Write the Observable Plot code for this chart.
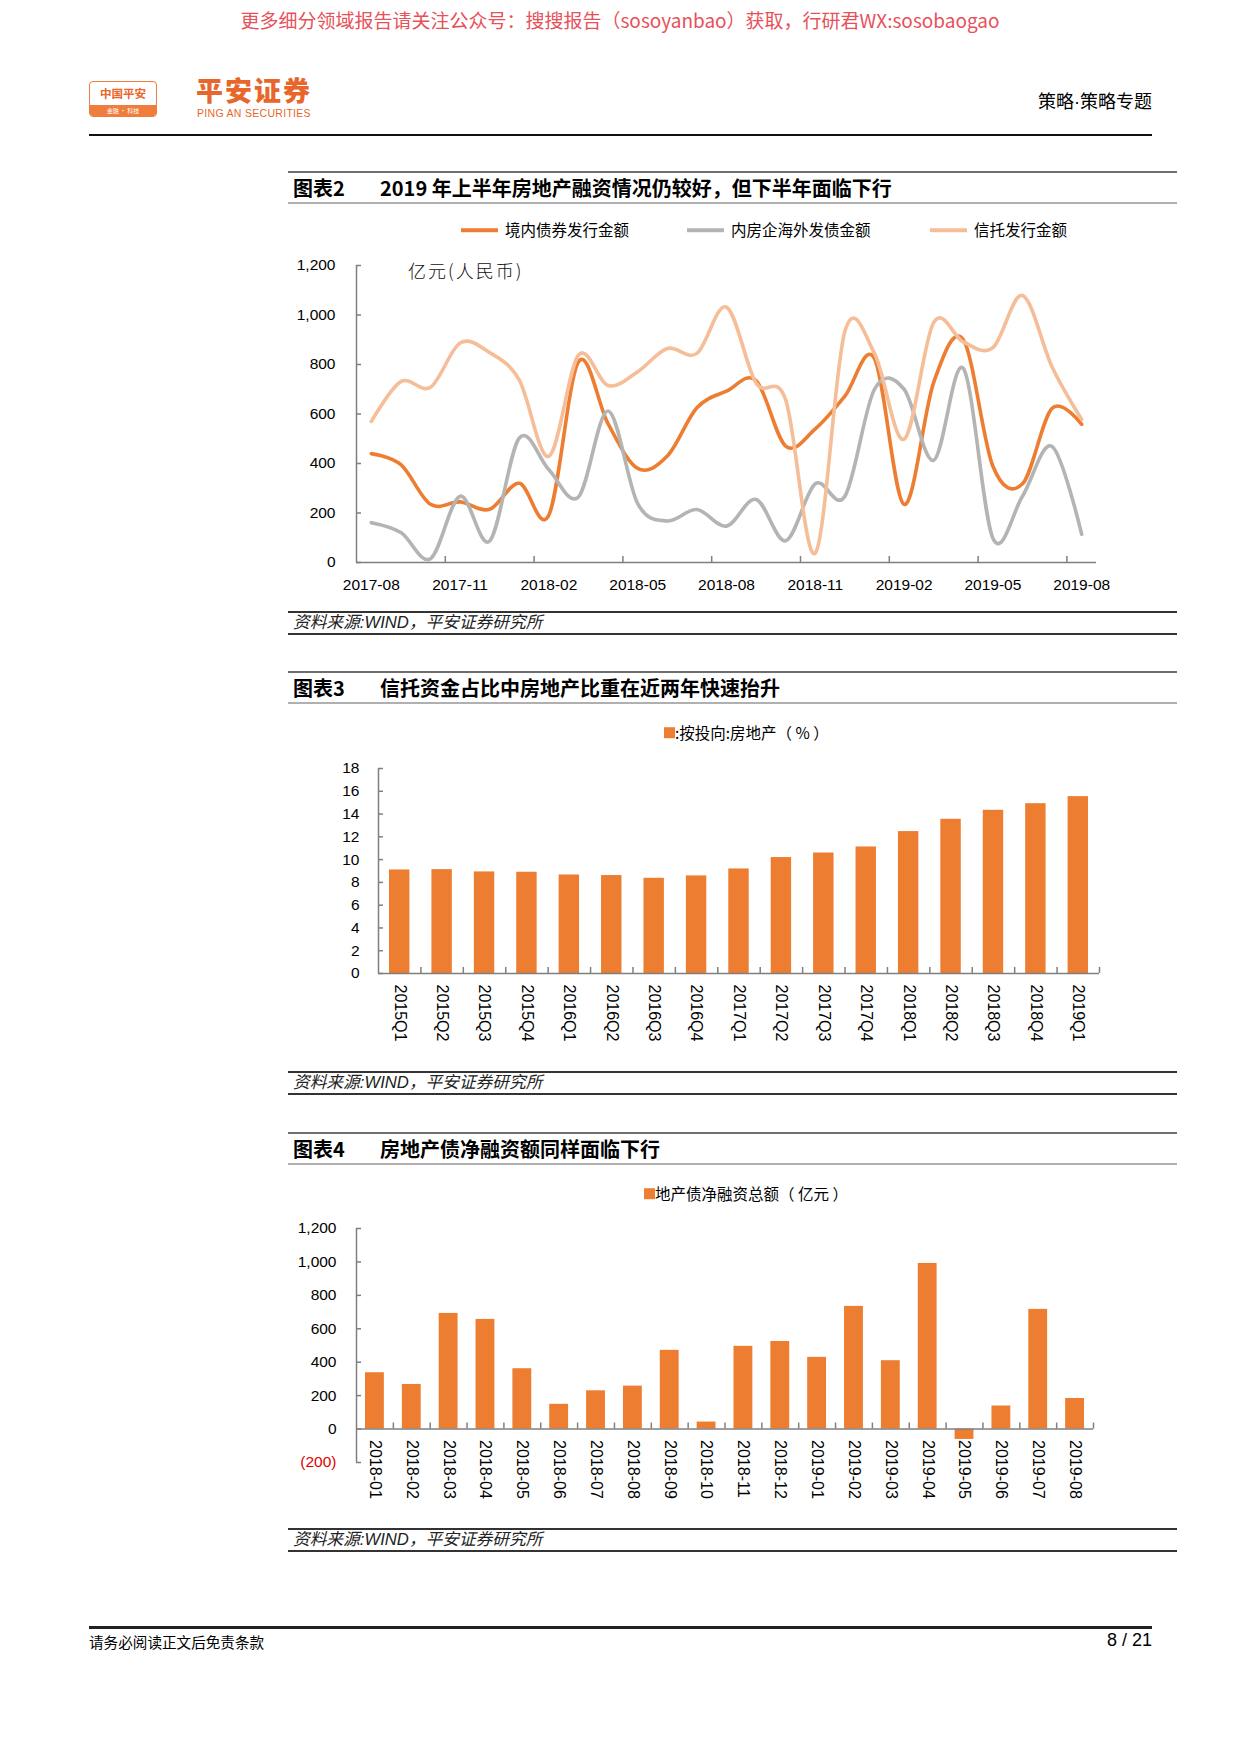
<!DOCTYPE html>
<html><head><meta charset="utf-8">
<script src="https://cdn.jsdelivr.net/npm/d3@7"></script>
<script src="https://cdn.jsdelivr.net/npm/@observablehq/plot@0.6"></script>
<style>
body{margin:0;background:#fff;}
#page{position:relative;width:1240px;height:1753px;overflow:hidden;font-family:"Liberation Sans","Noto Sans CJK SC",sans-serif;color:#000;}
.a{position:absolute;white-space:nowrap;line-height:1;}
.cy{transform:translateY(-50%);}
.rule{position:absolute;left:288px;width:889px;}
.ttl{font-family:"Noto Sans CJK SC",sans-serif;font-weight:700;font-size:20px;}
.src{font-style:italic;font-size:16.7px;color:#222;}
.lg{font-family:"Noto Sans CJK SC",sans-serif;font-size:15.5px;}
.sw{display:inline-block;vertical-align:middle;}
svg{overflow:visible;}
</style></head>
<body><div id="page"></div>
<script>
// ---------- data ----------
const months = ["2017-08","2017-09","2017-10","2017-11","2017-12","2018-01","2018-02","2018-03","2018-04","2018-05","2018-06","2018-07","2018-08","2018-09","2018-10","2018-11","2018-12","2019-01","2019-02","2019-03","2019-04","2019-05","2019-06","2019-07","2019-08"];
const domesticBond = [440,395,235,245,215,320,192,811,560,380,430,625,692,735,470,540,672,824,235,728,900,389,318,623,558];
const overseasBond = [161,121,15,268,87,503,375,265,612,238,168,214,147,255,88,318,268,700,700,413,784,98,268,469,114];
const trustIssue   = [570,731,708,887,848,737,429,838,715,771,865,845,1032,725,657,38,934,845,498,970,891,868,1079,790,578];
const seriesNames = ["境内债券发行金额","内房企海外发债金额","信托发行金额"];
const yTicks1 = [0,200,400,600,800,1000,1200];

const quarters = ["2015Q1","2015Q2","2015Q3","2015Q4","2016Q1","2016Q2","2016Q3","2016Q4","2017Q1","2017Q2","2017Q3","2017Q4","2018Q1","2018Q2","2018Q3","2018Q4","2019Q1"];
const trustRealEstateShare = [9.09,9.12,8.92,8.89,8.65,8.60,8.36,8.57,9.18,10.18,10.58,11.11,12.46,13.54,14.33,14.91,15.53];
const yTicks2 = [0,2,4,6,8,10,12,14,16,18];

const months2 = ["2018-01","2018-02","2018-03","2018-04","2018-05","2018-06","2018-07","2018-08","2018-09","2018-10","2018-11","2018-12","2019-01","2019-02","2019-03","2019-04","2019-05","2019-06","2019-07","2019-08"];
const netFinancing = [337,267,692,656,361,148,229,257,471,42,495,524,429,734,409,991,-62,138,716,183];
const yTicks3 = [-200,0,200,400,600,800,1000,1200];

// ---------- styles ----------
const C_ORANGE = "#ED7D31", C_GRAY = "#B4B4B4", C_LIGHT = "#F5BE98";
const AXIS = "#7f7f7f";
const FONT = "'Liberation Sans','Noto Sans CJK SC',sans-serif";
const page = document.getElementById("page");
function el(html){ const t=document.createElement("div"); t.innerHTML=html; const n=t.firstElementChild; page.appendChild(n); return n; }
const fmt = d3.format(",");

// ---------- page header ----------
el(`<div class="a cy" style="left:0;width:1240px;text-align:center;top:19px;font-family:'Noto Sans CJK SC',sans-serif;font-size:19px;color:#e8505a;">更多细分领域报告请关注公众号：搜搜报告（sosoyanbao）获取，行研君WX:sosobaogao</div>`);
el(`<div class="a" style="left:89px;top:81px;width:66px;height:34px;border:1.5px solid #ef7d3c;border-radius:4px;overflow:hidden;background:#fff;">
  <div style="position:absolute;left:0;right:0;top:6px;text-align:center;font-family:'Noto Sans CJK SC';font-weight:700;font-size:11.5px;color:#e8662b;">中国平安</div>
  <div style="position:absolute;left:0;right:0;bottom:0;height:11px;background:#ef7d3c;color:#fff;font-size:6px;text-align:center;line-height:11px;font-family:'Noto Sans CJK SC';">金融 · 科技</div></div>`);
el(`<div class="a" style="left:196px;top:76px;font-family:'Noto Sans CJK SC';font-weight:900;font-size:27px;color:#e8662b;letter-spacing:2px;">平安证券</div>`);
el(`<div class="a" style="left:197px;top:108px;font-size:10.5px;color:#e8662b;letter-spacing:0.3px;">PING AN SECURITIES</div>`);
el(`<div class="a cy" style="right:88px;top:102px;font-family:'Liberation Sans','Noto Sans CJK SC';font-size:18px;">策略·策略专题</div>`);
el(`<div class="a" style="left:89px;top:134px;width:1063px;height:2px;background:#111;"></div>`);

// ---------- section helpers ----------
function section(top, num, title, srcTop){
  el(`<div class="rule" style="top:${top-1}px;height:2px;background:#6e6e6e;"></div>`);
  el(`<div class="a cy ttl" style="left:293px;top:${top+16}px;">图表${num}</div>`);
  el(`<div class="a cy ttl" style="left:380px;top:${top+16}px;">${title}</div>`);
  el(`<div class="rule" style="top:${top+30}px;height:2px;background:#b0b0b0;"></div>`);
  el(`<div class="rule" style="top:${srcTop}px;height:1.5px;background:#333;"></div>`);
  el(`<div class="a cy src" style="left:293px;top:${srcTop+12}px;">资料来源:WIND，平安证券研究所</div>`);
  el(`<div class="rule" style="top:${srcTop+22}px;height:1.5px;background:#333;"></div>`);
}
function place(svg, left, top){ const w=document.createElement("div"); w.style.cssText=`position:absolute;left:${left}px;top:${top}px;`; w.appendChild(svg); page.appendChild(w); }

// ---------- Chart 2 (line) ----------
section(172, 2, "2019 年上半年房地产融资情况仍较好，但下半年面临下行", 611);
const lgItems = [[461, C_ORANGE, seriesNames[0]],[687, C_GRAY, seriesNames[1]],[930, C_LIGHT, seriesNames[2]]];
for (const [x,c,t] of lgItems){
  el(`<div class="a cy lg" style="left:${x}px;top:229px;"><span class="sw" style="width:37px;height:3.5px;background:${c};margin-right:7px;"></span><span style="vertical-align:middle">${t}</span></div>`);
}
el(`<div class="a cy" style="left:408px;top:270px;font-family:'Noto Sans CJK SC';font-weight:300;font-size:18px;letter-spacing:2px;color:#111;">亿元(人民币)</div>`);

const rows1 = [];
months.forEach((m,i)=>{
  rows1.push({i, s:seriesNames[0], v:domesticBond[i]});
  rows1.push({i, s:seriesNames[1], v:overseasBond[i]});
  rows1.push({i, s:seriesNames[2], v:trustIssue[i]});
});
const n1 = months.length;
const chart1 = Plot.plot({
  width:830, height:360, marginLeft:76, marginRight:14, marginTop:15, marginBottom:48,
  style:{fontFamily:FONT, background:"transparent"},
  x:{type:"linear", domain:[-0.5, n1-0.5], axis:null},
  y:{domain:[0,1200], axis:null},
  color:{domain:seriesNames, range:[C_ORANGE,C_GRAY,C_LIGHT]},
  marks:[
    Plot.ruleX([-0.5],{y1:0,y2:1200,stroke:AXIS,strokeWidth:1.5}),
    Plot.ruleY(yTicks1,{x1:-0.5,x2:-0.5,insetRight:-5,stroke:AXIS,strokeWidth:1.5}),
    Plot.ruleX(d3.range(2.5, n1-1, 3),{y1:0,y2:0,insetBottom:6,stroke:AXIS,strokeWidth:1.5}),
    Plot.line(rows1,{x:"i",y:"v",z:"s",stroke:"s",curve:"cardinal",strokeWidth:3.6,strokeLinejoin:"round"}),
    Plot.ruleY([0],{x1:-0.5,x2:n1-0.5,stroke:AXIS,strokeWidth:1.5}),
    Plot.text(yTicks1,{x:()=>-0.5,y:d=>d,text:d=>fmt(d),textAnchor:"end",dx:-21,fontSize:15.5,fill:"#000"}),
    Plot.text(d3.range(0,n1,3),{x:d=>d,y:()=>0,text:d=>months[d],dy:23,fontSize:15.5,fill:"#000"})
  ]
});
place(chart1, 280, 250);

// ---------- Chart 3 (bars) ----------
section(672, 3, "信托资金占比中房地产比重在近两年快速抬升", 1071);
el(`<div class="a cy lg" style="left:664px;top:732px;"><span class="sw" style="width:11px;height:11px;background:${C_ORANGE};"></span><span style="vertical-align:middle">:按投向:房地产（ % ）</span></div>`);
const n2 = quarters.length;
const rows2 = quarters.map((q,i)=>({i,q,v:trustRealEstateShare[i]}));
const chart2 = Plot.plot({
  width:830, height:310, marginLeft:98, marginRight:11, marginTop:18, marginBottom:87,
  style:{fontFamily:FONT, background:"transparent"},
  x:{type:"linear", domain:[-0.5, n2-0.5], axis:null},
  y:{domain:[0,18], axis:null},
  marks:[
    Plot.rectY(rows2,{x1:d=>d.i-0.5,x2:d=>d.i+0.5,y1:0,y2:"v",insetLeft:11,insetRight:11,fill:C_ORANGE}),
    Plot.ruleX([-0.5],{y1:0,y2:18,stroke:AXIS,strokeWidth:1.5}),
    Plot.ruleY(yTicks2,{x1:-0.5,x2:-0.5,insetRight:-5,stroke:AXIS,strokeWidth:1.5}),
    Plot.ruleX(d3.range(0.5, n2, 1),{y1:0,y2:0,insetBottom:6,stroke:AXIS,strokeWidth:1.5}),
    Plot.ruleY([0],{x1:-0.5,x2:n2-0.5,stroke:AXIS,strokeWidth:1.5}),
    Plot.text(yTicks2,{x:()=>-0.5,y:d=>d,text:d=>fmt(d),textAnchor:"end",dx:-19,fontSize:15.5,fill:"#000"}),
    Plot.text(rows2,{x:"i",y:()=>0,text:"q",rotate:90,textAnchor:"start",dy:11,fontSize:16,fill:"#000"})
  ]
});
place(chart2, 280, 750);

// ---------- Chart 4 (bars with negative) ----------
section(1133, 4, "房地产债净融资额同样面临下行", 1528);
el(`<div class="a cy lg" style="left:644px;top:1193px;"><span class="sw" style="width:11px;height:11px;background:${C_ORANGE};"></span><span style="vertical-align:middle">地产债净融资总额（ 亿元 ）</span></div>`);
const n3 = months2.length;
const rows3 = months2.map((m,i)=>({i,m,v:netFinancing[i]}));
const chart3 = Plot.plot({
  width:830, height:300, marginLeft:76, marginRight:17, marginTop:18, marginBottom:48,
  style:{fontFamily:FONT, background:"transparent"},
  x:{type:"linear", domain:[-0.5, n3-0.5], axis:null},
  y:{domain:[-200,1200], axis:null},
  marks:[
    Plot.rectY(rows3,{x1:d=>d.i-0.5,x2:d=>d.i+0.5,y1:0,y2:"v",insetLeft:9,insetRight:9,fill:C_ORANGE}),
    Plot.ruleX([-0.5],{y1:-200,y2:1200,stroke:AXIS,strokeWidth:1.5}),
    Plot.ruleY(yTicks3,{x1:-0.5,x2:-0.5,insetRight:-5,stroke:AXIS,strokeWidth:1.5}),
    Plot.ruleX(d3.range(0.5, n3, 1),{y1:0,y2:0,insetBottom:6,stroke:AXIS,strokeWidth:1.5}),
    Plot.ruleY([0],{x1:-0.5,x2:n3-0.5,stroke:AXIS,strokeWidth:1.5}),
    Plot.text(yTicks3,{x:()=>-0.5,y:d=>d,text:d=>d<0?`(${fmt(-d)})`:fmt(d),textAnchor:"end",dx:-20,fontSize:15.5,fill:d=>d<0?"#e00000":"#000"}),
    Plot.text(rows3,{x:"i",y:()=>0,text:"m",rotate:90,textAnchor:"start",dy:11,fontSize:16,fill:"#000"})
  ]
});
place(chart3, 280, 1210);

// ---------- footer ----------
el(`<div class="a" style="left:89px;top:1626px;width:1063px;height:3px;background:#222;"></div>`);
el(`<div class="a cy" style="left:89px;top:1642px;font-family:'Noto Sans CJK SC';font-size:14.6px;">请务必阅读正文后免责条款</div>`);
el(`<div class="a cy" style="right:88px;top:1640px;font-size:18px;">8 / 21</div>`);
</script></body></html>
